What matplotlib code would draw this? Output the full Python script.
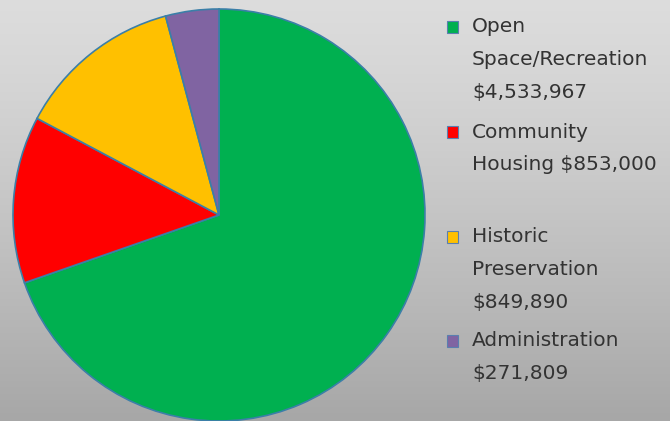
import numpy as np
import matplotlib
matplotlib.use("Agg")
import matplotlib.pyplot as plt
from matplotlib.patches import Rectangle

categories = ["Open Space/Recreation", "Community Housing", "Historic Preservation", "Administration"]
values = [4533967, 853000, 849890, 271809]
legend_lines = [
    ["Open", "Space/Recreation", "$4,533,967"],
    ["Community", "Housing $853,000"],
    ["Historic", "Preservation", "$849,890"],
    ["Administration", "$271,809"],
]
colors = ["#00B050", "#FF0000", "#FFC000", "#8064A2"]

W, H = 670, 421
fig = plt.figure(figsize=(W / 100, H / 100), dpi=100)

# background gradient
bg = fig.add_axes([0, 0, 1, 1])
yy = np.linspace(0, 1, 200)[:, None]
grad = 0.865 - 0.21 * yy ** 1.2 + np.zeros((1, 200))
bg.imshow(np.dstack([grad, grad, grad]), aspect="auto", extent=[0, 1, 0, 1], origin="upper")
bg.axis("off")

# pie
cx, cy, r = 219, 215, 206
ax = fig.add_axes([(cx - r) / W, (H - cy - r) / H, 2 * r / W, 2 * r / H])
ax.pie(values, colors=colors, startangle=90, counterclock=False,
       wedgeprops=dict(edgecolor="#3B7FA8", linewidth=1.2))
ax.set_xlim(-1, 1)
ax.set_ylim(-1, 1)
ax.set_aspect("equal")
ax.axis("off")

# legend (manual)
line_h = 32.7
entry_tops = [27, 132, 237, 341]
for lines, col, top in zip(legend_lines, colors, entry_tops):
    fig.patches.append(Rectangle((447 / W, 1 - (top + 6) / H), 11 / W, 12 / H,
                                 transform=fig.transFigure, facecolor=col,
                                 edgecolor="#5a7fb0", linewidth=0.8))
    for i, t in enumerate(lines):
        fig.text(472 / W, 1 - (top + i * line_h) / H, t.replace("$", r"\$"),
                 fontsize=14.5, family="DejaVu Sans", color="#333333", va="center", ha="left")

fig.savefig("out.png", dpi=100)
